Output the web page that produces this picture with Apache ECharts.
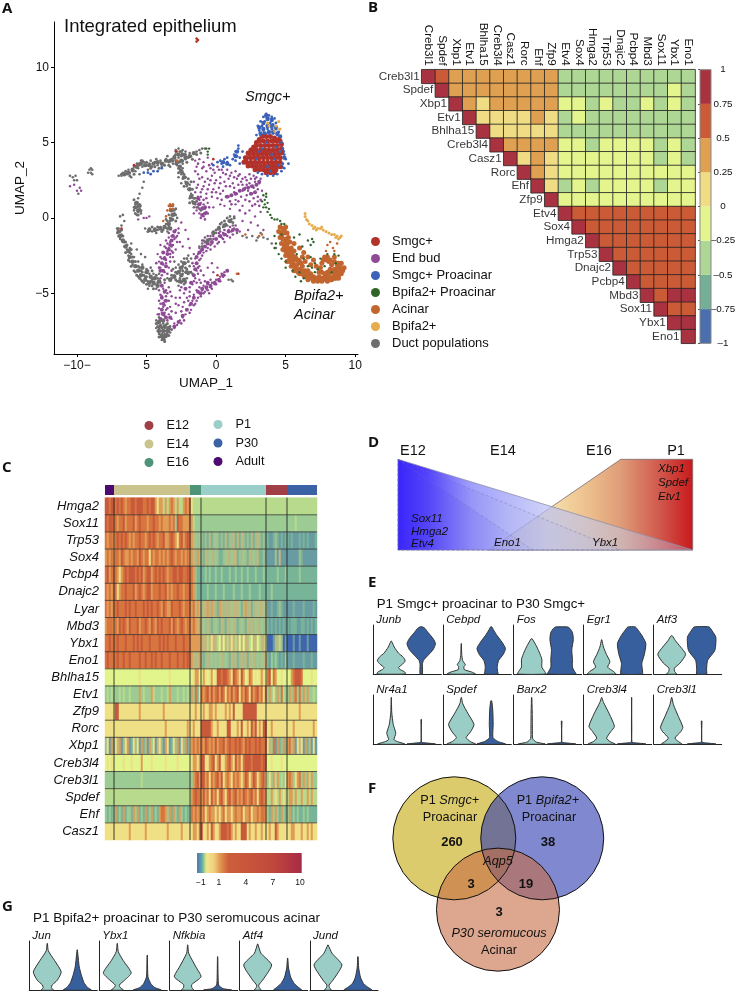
<!DOCTYPE html>
<html>
<head>
<meta charset="utf-8">
<script src="https://cdn.jsdelivr.net/npm/echarts@6/dist/echarts.min.js"></script>
<style>html,body{margin:0;background:#fff}</style>
</head>
<body>
<div id="main" style="width:736px;height:994px"></div>
<script>
// ---- panel A: UMAP points
const ductPts = [[-10.5,2.8],[-10.3,2.7],[-10.1,2.8],[-10.2,2.5],[-10,2.5],[-9.9,1.6],[-9.1,3.2],[-9,3],[-8.9,3.2],[-9,3.3],[-9.2,3],[-8.9,2.9],
[-7,2.8],[-6.8,2.8],[-6.6,2.9],[-6.4,2.9],[-6.7,3],[-6.2,3],[-6,3.1],[-6.3,3.2],[-5.9,3.4],[-5.7,3.6],[-5.5,3.5],[-5.3,3.4],[-5.8,3.1],[-5.6,3.3],[-5.2,3.7],[-5,3.5],[-4.8,3.6],[-4.6,3.4],[-4.4,3.7],[-4.2,3.5],[-4,3.8],[-3.8,3.6],[-3.6,3.9],[-3.9,3.4],[-3.4,3.7],[-3.2,3.9],[-3,4.1],[-2.8,4.4],[-2.6,4.4],[-2.9,3.8],[-2.7,4],[-2.5,4.1],[-2.3,4.2],[-2.6,3.7],[-2.4,3.6],[-2.2,3.9],[-2,4],[-1.8,4.1],[-1.6,4.3],[-1.4,4.4],[-1.2,4.5],[-1,4.6],[-0.8,4.6],[-2.2,4.4],[-1.9,4.3],[-2.8,3.5],[-2.6,3.2],[-2.4,3.3],[-2.5,2.9],[-2.3,2.9],[-3.1,3.6],[-3.3,3.4],[-3.5,4.1],[-2.9,4.5],[-2.7,4.6],[-2.4,4.5],[-4.3,3.9],[-4.7,3.8],[-5.4,3.8],[-6.1,2.7],[-5.5,2.9],[-4.9,3.2],
[-2.4,2.6],[-2.2,2.4],[-2.5,2.3],[-2.1,2.1],[-1.9,2.2],[-2,1.9],[-1.8,1.6],[-1.9,1.3],[-1.7,1.1],[-1.5,0.9],[-1.3,0.7],[-1.6,0.7],[-1.1,0.5],[-1.7,1.5],[-2.7,2.7],
[-5.6,1.3],[-5.8,1],[-5.5,0.9],[-5.9,0.7],[-5.7,0.7],[-5.5,0.6],[-5.9,0.5],[-5.6,0.4],[-5.7,0.2],[-5.4,0.3],[-5.5,1.6],[-5.3,2],[-5.2,2.4],[-5.8,0.9],
[-5.1,-0.7],[-4.8,-0.7],[-4.6,-0.9],[-4.4,-0.7],[-4.2,-0.8],[-4,-0.6],[-3.8,-0.8],[-3.6,-0.4],[-3.4,-0.6],[-3.3,-0.2],[-3.6,-0.1],[-3.1,-0.1],[-3.2,0.2],[-2.9,0.2],[-3.4,0.2],[-3,0.5],[-3.3,0.5],[-3.1,0.8],[-2.8,0],[-3.5,-0.9],[-4.3,-1],
[-7.1,-1],[-7,-0.7],[-6.9,-0.9],[-6.8,-0.5],[-6.8,-1.1],[-6.9,-1.4],[-6.7,-1.6],[-6.6,-0.2],[-6.9,0.1],[-6.7,0.2],[-6.6,-1.9],[-6.4,-2.1],[-6.2,-2],[-6.3,-2.5],[-6.1,-2.4],[-6.2,-2.9],[-5.9,-2.6],[-6,-3.1],[-5.8,-3.2],[-5.6,-2.9],[-5.8,-3.6],[-5.5,-3.3],[-5.3,-3.1],[-5.6,-3.9],[-5.3,-3.6],[-5,-3.4],[-5.4,-4.1],[-5.1,-3.9],[-4.8,-3.7],[-5.2,-4.3],[-4.9,-4.2],[-4.6,-4.1],[-4.8,-4.5],[-4.4,-4.4],[-4.2,-4],[-4.5,-3.7],[-4.7,-3.3],[-4.3,-4.7],[-4,-4.3],[-5.1,-2.6],[-5.4,-2.4],[-4.9,-4.7],[-4.1,-3.7],[-6.1,-1.7],[-5.7,-2.1],
[-3.5,-4],[-3.2,-4],[-3,-3.8],[-2.8,-3.7],[-2.6,-3.5],[-2.4,-3.2],[-2.2,-3],[-2.7,-3.1],[-2.5,-2.9],[-2.9,-3.3],[-2.3,-2.7],[-2.1,-3.4],[-2.4,-3.7],[-2.6,-4],[-2.8,-4.2],[-2.5,-4.3],[-2.3,-4.4],[-2.1,-4],[-2.7,-4.5],[-2.2,-3.6],[-1.9,-3.2],[-1.8,-2.7],[-2,-2.5],[-1.7,-3.7],[-3,-2.9],[-3.1,-3.4],
[-4,-7.1],[-3.8,-7],[-3.6,-7.1],[-4.1,-7.3],[-3.9,-7.3],[-3.7,-7.3],[-3.5,-7.3],[-3.3,-7.2],[-4.2,-7.5],[-4,-7.5],[-3.8,-7.5],[-3.6,-7.5],[-3.4,-7.5],[-4.1,-7.7],[-3.9,-7.7],[-3.7,-7.7],[-3.5,-7.7],[-3.3,-7.6],[-4,-7.9],[-3.8,-7.9],[-3.6,-7.9],[-3.9,-8.1],[-3.7,-8.1],[-4.2,-7],[-4.3,-7.3],[-4.3,-6.8],[-3.9,-6.8],[-4.1,-6.6],
[-1.2,-1.9],[-1,-1.7],[-0.6,-1.6],[-0.8,-1.3],[-0.4,-1.2],[-0.2,-0.9],[0,-1],[0.2,-0.6],[0.5,-0.6],[0.7,-0.4],[0.9,-0.2],[1.1,-0.1],[0.8,-0.5],[1.2,-0.5],[0.4,-0.3],[1,0.1],
[1.5,-1],[1.9,-1.2],[2.2,-1.3],[2.6,-1.2],[3,-1.3],[3.4,-1.3],[3.7,-1.4],[4,-1.7],[4.3,-2],[3.2,-1],[2.9,-1.5],[1.1,-4.1],[1.2,-4.2],[0.9,-4.1]];
const ductFill = [[-6.8,2.9],[-6.5,3.1],[-6.2,2.8],[-5.9,2.9],[-5.6,3.6],[-5.3,3.8],[-5,3.7],[-4.7,3.3],[-4.4,3.4],[-4.1,3.3],[-3.7,3.5],[-3.4,3.5],[-3.1,3.8],[-2.9,4.2],[-2.5,4.4],[-2.2,4.2],[-2.9,3.6],[-2.7,3.3],[-2.4,3.8],[-2.1,3.7],[-1.7,3.9],[-1.4,4.2],[-1.1,4.3],[-2.7,3],[-2.4,3],[-2.2,2.7],[-2,2.6],[-1.8,2.4],[-2.3,2.1],[-1.7,1.9],[-1.6,1.3],[-1.9,1],[-1.4,1.1],
[-5.9,1.2],[-5.6,0.8],[-5.4,0.5],[-5.8,0.3],[-5.6,0.2],
[-4.9,-0.9],[-4.6,-0.6],[-4.2,-0.6],[-3.9,-0.9],[-3.5,-0.7],[-3.5,-0.2],[-3.3,0],[-2.9,-0.2],[-3,0.3],[-2.9,0.6],
[-7.1,-0.7],[-6.8,-0.8],[-7,-1.2],[-6.7,-1.2],[-6.6,-1.6],[-6.5,-1.6],[-6.4,-1.8],[-6.5,-2.3],[-6.1,-2.1],[-6.2,-2.3],[-6.3,-2.8],[-6,-2.6],[-5.8,-2.9],[-6.1,-3.2],[-5.6,-3.2],[-5.9,-3.5],[-5.4,-3.5],[-5.7,-3.8],[-5.2,-3.8],[-5.5,-4],[-5,-3.9],[-5.3,-4.2],[-4.7,-4.2],[-5,-4.4],[-4.6,-4.5],[-4.2,-4.3],[-4.5,-4],[-4.9,-3.5],[-4.6,-3.5],[-4.3,-3.8],[-4.5,-4.7],
[-3.7,-4.1],[-3.2,-3.8],[-2.9,-4.1],[-2.6,-3.3],[-2.4,-3.5],[-2.2,-3.3],[-2,-2.9],[-2.1,-2.7],[-2.4,-4.2],[-2.2,-4.2],[-2,-3.7],[-1.9,-3.6],[-2.9,-3.6],
[-4.2,-7.2],[-4.3,-7],[-3.5,-7],[-3.2,-7.4],[-4.1,-7.9],[-3.4,-7.8],[-3.7,-8.2],
[-1,-1.9],[-0.8,-1.6],[-0.4,-1.4],[0,-0.8],[0.3,-0.4],[0.6,-0.2],[0.8,0],[1.2,-0.3],[1.3,0]];
const ductCore = [[-6.6,2.9],[-6.3,3],[-6,3.2],[-5.7,3.4],[-5.4,3.6],[-5.1,3.5],[-4.8,3.5],[-4.5,3.6],[-4.2,3.7],[-3.9,3.6],[-3.6,3.8],[-3.3,3.8],[-3,4],[-2.7,4.2],[-2.4,4.2],[-2.8,3.7],[-2.5,3.8],[-2.2,4],[-1.9,4.1],[-1.6,4.3],[-2.6,3.4],[-2.5,3.1],[-2.3,2.7],[-2.1,2.3],[-1.9,1.9],[-1.8,1.4],[-1.6,1],
[-5.7,1],[-5.8,0.7],[-5.6,0.5],[-5.5,0.8],
[-4.8,-0.8],[-4.4,-0.8],[-4,-0.7],[-3.7,-0.6],[-3.4,-0.4],[-3.2,-0.1],[-3.1,0.2],[-3.2,0.5],[-3.3,-0.7],
[-7,-0.9],[-6.9,-1.2],[-6.7,-1.5],[-6.5,-1.9],[-6.3,-2.2],[-6.2,-2.6],[-6,-2.9],[-5.8,-3.2],[-5.6,-3.5],[-5.4,-3.8],[-5.1,-4.1],[-4.8,-4.3],[-4.5,-4.3],[-4.2,-4.5],[-5.3,-3.3],[-5,-3.6],[-4.7,-3.9],[-4.4,-4],[-4.1,-4.2],
[-3.3,-4.1],[-3,-3.9],[-2.7,-3.6],[-2.5,-3.3],[-2.3,-3],[-2.5,-3.8],[-2.6,-4.2],[-2.3,-4.1],[-2.1,-3.6],
[-4,-7.2],[-3.7,-7.2],[-3.4,-7.3],[-4.1,-7.5],[-3.8,-7.5],[-3.5,-7.5],[-3.9,-7.8],[-3.6,-7.8],[-3.8,-8],[-4.1,-6.9],[-3.8,-6.8],
[-0.6,-1.5],[-0.2,-1],[0.2,-0.7],[0.6,-0.5],[1,-0.2]];
const endBudPts = [[-10.5,2.1],[-10.2,2.2],[-10,1.8],[-9.8,2],[-9.7,1.8],[-5.6,-0.1],[-5.2,0],[-5,0],[-4.8,0.1],
[-1.5,3.8],[-1.2,3.9],[-0.9,3.7],[-0.6,4],[-0.3,3.6],[-1.4,3.4],[-1,3.3],[-0.7,3.1],[-0.4,3.3],[-0.1,3],[0.2,3.2],[0.5,3],[0.8,3.2],[1.1,3],[1.4,3.1],[1.7,2.9],[-1.3,2.9],[-1,2.7],[-0.6,2.6],[-0.3,2.8],[0,2.5],[0.3,2.7],[0.6,2.4],[0.9,2.6],[1.2,2.3],[1.5,2.6],[1.8,2.4],[2.1,2.7],[2.4,2.9],[2.7,2.8],[-1.6,2.4],[-1.3,2.2],[-0.9,2.1],[-0.5,2.2],[-0.2,1.9],[0.2,2],[0.5,1.8],[-1.1,1.7],[-0.7,1.6],[-0.3,1.4],[0.1,1.3],[-1.2,1.2],[-0.6,1],[-0.2,0.7],[0.3,0.9],[0.6,0.8],[1,0.6],[1.4,0.9],[1.9,0.8],[2.4,0.5],[2.8,0.1],[3.2,0.4],[1.3,0.1],[1.9,-0.2],[2.5,-0.3],[3,-0.5],[2.3,-0.8],[3.4,-0.8],
[0.7,1.4],[0.9,1.4],[1.1,1.5],[1.3,1.7],[1.5,1.6],[1.7,1.8],[1.9,1.8],[2.1,2],[2.3,1.8],[2.5,2.1],[2.7,2],[2.9,2.2],[3.1,2.3],[2.8,2.4],[3,1.9],[2.6,1.6],[3.2,2.6],[2.9,2.7],[3.3,1.8],[2.4,2.3],[2.2,1.5],[1.8,1.4],[1.4,1.2],[2.7,1.3],[3,1.1],
[-1.5,1.7],[-1.3,1.4],[-1.1,1],[-0.9,0.9],[-1.4,0.5],[-1.2,0.3],[-1,0.2],[-0.8,0.6],[-1,0.7],[-0.7,0.4],[-1.3,0.9],[-0.9,0.1],[-1.6,0.3],
[-1.3,-2.4],[-1.1,-2.2],[-0.9,-2.3],[-1.2,-2],[-0.8,-1.9],[-0.6,-2],[-1,-1.5],[-0.4,-1.8],[-0.2,-1.4],[-0.3,-1.7],[0,-1.4],[0.2,-1.2],[0.4,-1.3],[0.1,-1.7],[0.5,-1],[0.7,-1.1],[0.9,-0.8],[1.1,-0.9],[1.3,-0.7],[1.5,-0.8],[1.7,-0.9],[0.6,-1.6],[0.3,-0.9],[-0.5,-1.4],[-0.7,-1.6],[1,-1.3],[-1.5,-2.7],[-1.4,-3],[-1.2,-3.2],[-1.4,-3.5],[-1.1,-2.7],[-1.6,-2.4],[-1.6,-3.2],[-1.3,-3.7],[-1.5,-4],[-1.7,-4.4],[-1.2,-4.1],
[-4,-3.3],[-3.8,-3.1],[-3.6,-3],[-4.1,-2.9],[-3.9,-2.7],[-3.7,-2.6],[-3.5,-2.4],[-3.8,-2.3],[-3.3,-2.6],[-3.6,-2],[-3.4,-2],[-3.2,-2.2],[-3.5,-1.7],[-3.3,-1.6],[-3.1,-1.8],[-3.4,-1.3],[-3.2,-1.2],[-3,-1.4],[-3,-0.9],[-2.8,-1.2],[-2.7,-0.7],[-2.6,-1.6],[-2.9,-2.1],[-2.5,-0.3],[-3.7,-3.6],[-3.4,-3.3],[-3.1,-2.6],[-4.2,-2.4],[-4,-1.8],[-2.4,-1.9],[-2.2,-0.8],[-2,-1.4],[-1.9,-2],
[-4,-4],[-3.7,-4.3],[-3.4,-4.6],[-3.8,-4.7],[-3.5,-5],[-3.2,-5.2],[-3.9,-5.2],[-4.1,-4.8],[-3.7,-5.5],[-4,-5.7],[-3.8,-5.9],[-3.6,-6.1],[-4.1,-6],[-3.9,-6.3],[-3.7,-6.5],[-4.2,-6.4],[-3.4,-6.4],[-3.2,-6.7],[-3,-7],[-3.3,-5.9],[-2.9,-5.3],[-2.6,-4.8],[-2.3,-5],[-2.7,-5.8],[-2.4,-5.9],
[0.8,-3.5],[0.6,-3.6],[0.5,-3.9],[0.3,-3.9],[0.2,-4.2],[0,-4.1],[-0.1,-4.4],[-0.3,-4.3],[-0.4,-4.6],[-0.6,-4.4],[-0.7,-4.7],[-0.9,-4.5],[-1,-4.8],[-1.2,-4.6],[-0.8,-4.9],[-0.5,-5],[-1.2,-5],[-1.4,-4.8],[-1.6,-5.1],[-1.3,-5.3],[-1.7,-5.5],[-1.5,-5.7],[-1.9,-5.8],[-1.8,-6.1],[-2.1,-6.1],[-2.2,-6.4],[-2.4,-6.6],[-2.6,-6.8],[-2.8,-7.1],[-3,-7.3],[-2.1,-5.3],[-1.9,-4.9],[-0.2,-3.6],[-0.6,-3.3],[-0.9,-3.8],[0.1,-3.3],[-0.3,-3]];
const endBudFill = [[-1.3,3.6],[-0.9,3.4],[-0.5,3.5],[-0.2,3.2],[0.1,3.4],[0.4,3.2],[0.7,2.9],[1,2.8],[1.3,2.7],[1.6,2.8],[1.9,2.6],[2.2,2.5],[2.5,2.6],[2.8,2.6],[-1.5,3.1],[-1.2,2.6],[-0.8,2.4],[-0.4,2.5],[-0.1,2.3],[0.3,2.3],[0.7,2.1],[1,2.1],[1.3,2],[1.6,2.2],[1.9,2.2],[2.2,2.2],[-1.4,2],[-1,1.9],[-0.6,1.9],[-0.3,1.7],[0,1.7],[0.3,1.6],[0.4,1.2],[1,1.1],[1.6,1.1],[2.1,1.2],[2.4,1.1],[2.8,0.9],[3.1,0.8],[1.1,0.9],[1.7,0.5],[2.1,0.3],[2.6,0.8],[3,1.4],[3.2,1.2],[-1.5,1.3],[-1.5,1],[-1.4,0.7],[-1.1,1.4],[-0.9,1.2],[-0.7,1.3],[-0.5,0.7],[-0.6,0.3],[-1.2,0.6],[-1.1,0],[-0.8,-0.1],
[-1,-2.5],[-0.7,-2.2],[-0.4,-2.1],[-0.1,-1.9],[0.2,-1.6],[0.5,-1.4],[0.8,-1.2],[1.2,-1.1],[-0.9,-1.5],[-0.6,-1.2],[-0.2,-1.2],[0.2,-1],[0.6,-0.8],[1,-0.6],[1.4,-0.5],[-1.2,-2.8],[-1.3,-3.3],[-1.1,-3.5],[-1.7,-3],[-1.8,-3.6],[-1.6,-4.2],[-1.9,-4.6],[-2.2,-4.3],[-2.5,-4.6],[-1.4,-4.3],
[-4,-2.6],[-3.6,-2.8],[-3.3,-2.9],[-3.5,-2.2],[-3.1,-2.3],[-3.7,-1.9],[-3.2,-1.9],[-3.6,-1.5],[-3.4,-1],[-2.8,-1.6],[-2.9,-0.8],[-3.9,-3.8],[-3.5,-3.7],[-3.2,-3.5],[-4.1,-3.3],[-4.3,-3],[-3.3,-2.4],[-2.9,-1.3],[-2.7,-1],
[-3.6,-4.8],[-3.3,-4.9],[-3.6,-5.2],[-4,-5.1],[-3.4,-5.5],[-3.7,-5.8],[-4.1,-5.5],[-3.5,-6],[-3.7,-6.3],[-3.2,-6.2],[-3.5,-6.8],[-4.1,-6.4],[-2.9,-5.7],[-2.6,-5.3],[-2.9,-6.3],[-2.5,-6.2],[-2.3,-5.6],[-2,-5.5],[-1.9,-5.2],
[0.6,-3.8],[0.3,-4.2],[0,-4.4],[-0.3,-4.7],[-0.6,-4.8],[-0.9,-5],[-1.1,-5.2],[-1.4,-5.5],[-1.6,-5.8],[-1.9,-6.3],[-2.3,-6.8],[-2.5,-7],[-0.4,-4.1],[-0.8,-4.2],[-1.1,-4.3],[0.4,-3.7]];
const endBudCore = [[0.8,1.4],[1.1,1.5],[1.4,1.6],[1.7,1.8],[2,1.9],[2.3,2],[2.6,2.1],[2.9,2.2],[3.1,2.4],[2.8,1.7],[2.5,1.6],
[-1.3,1.3],[-1.2,0.9],[-1,0.6],[-0.8,0.3],[-1,0.2],[-0.8,0.7],
[-1.4,-2.6],[-1.2,-2.3],[-1,-2.1],[-0.8,-1.9],[-0.6,-1.7],[-0.3,-1.6],[0,-1.4],[0.3,-1.2],[0.6,-1.1],[0.9,-0.9],[1.2,-0.8],[1.5,-0.8],[-1.4,-3],[-1.5,-3.4],[-1.6,-3.8],[-1.8,-4.3],[-2.2,-4.7],
[-3.9,-3],[-3.7,-2.7],[-3.5,-2.4],[-3.4,-2.1],[-3.3,-1.8],[-3.2,-1.5],[-3.1,-1.2],[-3,-0.9],[-3.8,-2.3],[-3.6,-3.2],[-4,-3.5],[-3.8,-3.5],
[-3.9,-4.5],[-3.7,-4.9],[-3.9,-5.3],[-3.8,-5.7],[-3.9,-6.1],[-3.8,-6.4],[-4,-6.7],[-3.6,-5.5],[-3.6,-6.6],[-3.3,-6.6],
[0.8,-3.5],[0.5,-3.8],[0.2,-4.1],[-0.1,-4.3],[-0.4,-4.5],[-0.7,-4.6],[-1,-4.7],[-1.3,-4.9],[-1.6,-5.3],[-1.8,-5.7],[-2.1,-6.1],[-2.4,-6.5],[-2.7,-6.9],[-3,-7.2],[-0.6,-4.3],[-1.1,-5]];
const smgcPts = [[2.1,4],[2.3,4.3],[2.5,4.5],[2.7,4.7],[2.9,5],[3.1,5.2],[3.3,5.4],[3.6,5.4],[3.9,5.4],[4.2,5.3],[4.5,5.2],
[2,3.7],[2.2,3.7],[2.5,3.7],[2.8,3.7],[3.1,3.7],[3.4,3.7],[3.7,3.7],[4,3.7],[4.3,3.7],[4.6,3.7],
[2.2,4],[2.5,4],[2.8,4],[3.1,4],[3.4,4],[3.7,4],[4,4],[4.3,4],[4.6,4],
[2.4,4.25],[2.7,4.25],[3,4.25],[3.3,4.25],[3.6,4.25],[3.9,4.25],[4.2,4.25],[4.5,4.25],[4.7,4.3],
[2.6,4.5],[2.9,4.5],[3.2,4.5],[3.5,4.5],[3.8,4.5],[4.1,4.5],[4.4,4.5],[4.7,4.6],
[2.9,4.8],[3.2,4.8],[3.5,4.8],[3.8,4.8],[4.1,4.8],[4.4,4.8],[4.7,4.9],
[3.1,5.1],[3.4,5.1],[3.7,5.1],[4,5.1],[4.3,5.1],[4.6,5.1],
[2.3,3.45],[2.6,3.45],[2.9,3.45],[3.2,3.45],[3.5,3.45],[3.8,3.45],[4.1,3.45],[4.4,3.45],[4.6,3.4],
[2.8,3.2],[3.1,3.2],[3.4,3.2],[3.7,3.2],[4,3.2],[4.3,3.2],[3.6,3],[3.9,3],[4.2,3]];
const smgcStray = [[-1.4,11.9],[-1.3,11.8],[-1.4,11.7],[-0.2,3.9],[-3.3,0.8],[-6.8,-0.7],[-2.9,4.4],[0.1,-3.8],[-5.9,3.5],[1.6,-3.7]];
const smgcProPts = [[3,6.1],[3.2,6.4],[3.4,6.7],[3.6,6.9],[3.8,6.8],[4,6.7],[4.2,6.6],[3.3,6.1],[3.5,6.4],[3.7,6.5],[3.9,6.3],[4.1,6.2],[4.3,6.3],[3.1,5.8],[3.4,5.8],[3.7,5.9],[4,5.9],[4.3,5.9],[4.5,5.7],[2.9,5.5],[3.2,5.5],[3.5,5.6],[3.8,5.6],[4.1,5.6],[4.4,5.5],[4.6,5.4],[4.7,5],[4.8,4.6],[4.9,4.2],[5,3.9],[4.8,3.6],[4.9,3.3],[5.2,3.6],[4.7,3.1],[4.4,2.9],[4.1,2.8],[3.7,2.8],[3.3,2.9],[3,3],
[1.4,4.4],[1.6,4.6],[1.3,4.2],[1.5,4.1],[1.7,4],[1.6,4.8],[1.2,3.9],[1.4,3.8],[1.7,3.6],[1.9,4.4],[0.8,3.7],[1,3.5],[0.6,3.9],[0.4,3.6],[0.3,3.8],[0.1,3.7],[-0.2,3.5],[0.5,3.4],[0.8,4],
[3.3,4.6],[4,4.2],[3.7,3.4],[2.9,3.9],[4.3,4.7],[3.6,5],[4.5,3.5],[3.1,4.4],[4.2,3.9],[4.6,4.4],[3.9,3.1],
[-5.2,3],[-4.9,3],[-4.7,2.9],[-4.5,3.1],[-4.2,3.1],[-3.9,3.3]];
const smgcProCore = [[3.1,6],[3.4,6.3],[3.7,6.6],[4,6.5],[3.4,5.9],[3.7,6.1],[4,6.1],[4.3,6],[3.2,5.6],[3.5,5.6],[3.8,5.7],[4.1,5.7],[4.4,5.6],[3.6,6.8],[4.6,5.4],[1.5,4.4],[1.4,4.1],[0.5,3.7],[0.8,3.6],[4.8,4.4],[4.9,4],[4.7,3.4]];
const bpifaProPts = [[-0.6,4.4],[-0.7,4.6],[-0.5,4.6],[-0.6,4.2],[3.4,1.5],[3.5,1.2],[3.6,1.4],[3.3,1.1],[3.5,0.9],[3.7,1],[3.6,0.7],[3.8,0.6],[3.4,0.7],[3.7,0.4],[3.9,0.2],[4,0],[4.2,-0.1],[4.4,-0.1],[4.6,-0.2],[4.7,-0.4],[4.9,-0.4],[3.6,1.6],
[4.2,-1.2],[4.3,-1.7],[4.2,-2],[4.5,-2.4],[4.7,-2.7],[5,-2.9],[4.7,-1.1],[5.6,-1.3],[6,-1.1],[6.6,-1.5],[6.9,-1.4],[6.8,-1.8],[7,-1.6],[6.2,-1.9],[5.8,-2.4],[6.3,-2.7],[6.8,-2.6],[7.1,-3],[6.6,-3.2],[7.3,-3.4],[7.1,-3.6],[6.9,-3.3],[7.5,-2.7],[8,-2.4],[8.5,-2.4],[8.8,-2.5],[8.6,-3],[7.8,-3.2],[8.3,-3.6],[6,-3.6],[5.7,-3.9],[6.3,-4],[6.1,-4.2],[5.5,-3.5],[5,-3.3]];
const acinarPts = [[4.6,-0.6],[4.8,-0.7],[5,-0.6],[4.5,-0.9],[4.7,-1],[4.9,-1],[5.1,-1],[4.6,-1.3],[4.8,-1.4],[5,-1.4],[5.2,-1.3],[4.7,-1.7],[4.9,-1.8],[5.1,-1.7],[5.3,-1.6],[4.8,-2.1],[5,-2.2],[5.2,-2.1],[5.4,-2],[5,-2.5],[5.2,-2.5],[5.4,-2.4],[5.6,-2.2],[5.1,-2.9],[5.3,-2.9],[5.5,-2.8],[5.7,-2.6],[5.9,-2.8],[5.4,-3.2],[5.6,-3.1],[5.8,-3.1],[6,-2.9],[5.6,-3.5],[5.8,-3.5],[6,-3.4],[6.2,-3.2],[6.4,-2.9],[6,-3.7],[6.2,-3.7],[6.4,-3.5],[6.6,-3.5],[6.4,-3.9],[6.6,-3.8],[6.8,-3.7],[6.6,-4.1],[6.8,-4],[7,-3.9],[7,-4.2],[7.2,-4],[7.4,-3.9],[7.3,-4.2],[7.5,-4.1],[7.7,-4],[7.6,-4.2],[7.8,-4],[8,-3.9],[8,-4.2],[8.2,-4],[8.4,-3.9],[8.3,-4.1],[8.6,-4],[8.8,-3.8],[8.8,-4],[9,-3.7],[9.1,-3.5],[8.9,-3.4],[9.2,-3.3],[8.7,-3.6],[8.5,-3.4],[8.9,-3.1],[9,-3],[8.7,-3.1],[8.5,-2.9],[8.3,-3.1],[8.1,-2.9],[7.9,-2.8],[8.2,-3.4],[8,-2.6],[7.8,-2.6],[8.5,-2.6],[7.6,-3],[7.4,-3.6],[7.6,-3.6],[8,-3.6],[6.3,-2.3],[6.6,-2.6],[6,-2],[5.6,-1.7],[6.2,-2.6],[7,-2.8],[7.2,-3.2],[6.8,-3.1],
[4.9,-0.8],[4.7,-1.2],[5,-1.6],[4.9,-2],[5.1,-2.3],[5.3,-2.7],[5.5,-3],[5.7,-3.3],[5.9,-3.6],[6.2,-3.5],[6.3,-3.8],[6.5,-3.7],[6.7,-3.9],[7,-4],[7.3,-4],[7.6,-4],[7.9,-4.1],[8.2,-4.1],[8.5,-4],[8.8,-3.7],[9,-3.4],[8.7,-3.4],[8.4,-3.6],[8.6,-3.7],[8.1,-3.7],[8.8,-3],[8.2,-2.8],[7.7,-2.8],[7.5,-3.3],[7.8,-3.7],[6.1,-3],[5.8,-2.8],[5.5,-2.5],[5.3,-2.2],[5.1,-1.9]];
const acinarStray = [[8.2,-1.6],[8.4,-2],[8,-1.8],[8.7,-1.7],[8.5,-2.2],[7.9,-2.2],[3.1,-1.2],[3.3,-1.1],[2.1,-1.1],[1.5,-3.7],
[-3.4,0.8],[-3.3,0.6],[-3.2,0.8],[-3.1,0.6],[-3.5,0.5],[-3.6,0.1],[-3.8,-0.2],[-3.3,0.9],[-3.1,0.9],[-2.8,3.8]];
const bpifaPts = [[6.4,0.3],[6.4,0.1],[6.5,-0.1],[6.6,-0.2],[6.7,-0.4],[6.9,-0.5],[7.1,-0.6],[7.3,-0.7],[7.5,-0.7],[7.7,-0.8],[7.9,-0.9],[8.1,-1],[8.3,-1.1],[8.5,-1.1],[8.7,-1.2],[8.9,-1.3],[9,-1.2],[8.8,-1.4],[8.6,-1.3],[7.2,-0.8],[7,-0.7],[7.6,-0.6],
[4.5,6.4],[4.3,6.1],[4.1,5.9],[4.4,5.9],[3.8,6.1],[3.7,6.3],[4.2,5.7],[4.6,5.9]];
// legend names
const umapNames = ["Smgc+","End bud","Smgc+ Proacinar","Bpifa2+ Proacinar","Acinar","Bpifa2+","Duct populations"];

// ---- panel B: correlation, upper triangle, each row starts on the diagonal
const corrGenes = ["Creb3l1","Spdef","Xbp1","Etv1","Bhlha15","Creb3l4","Casz1","Rorc","Ehf","Zfp9","Etv4","Sox4","Hmga2","Trp53","Dnajc2","Pcbp4","Mbd3","Sox11","Ybx1","Eno1"];
const corrRows = [
[.9,.6,.4,.4,.4,.4,.4,.4,.4,.4,-.4,-.4,-.4,-.4,-.4,-.4,-.4,-.4,-.4,-.4],
[.9,.4,.4,.4,.4,.4,.4,.4,.4,-.4,-.4,-.4,-.4,-.4,-.4,-.4,-.4,-.1,-.4],
[.9,.4,.1,.4,.4,.4,.4,.4,-.1,-.1,-.4,-.1,-.4,-.4,-.1,-.4,-.1,-.4],
[.9,.1,.1,.1,.1,.4,.1,-.4,-.1,-.4,-.4,-.4,-.4,-.4,-.4,-.4,-.4],
[.9,.1,.1,.1,.1,.1,-.4,-.4,-.4,-.4,-.4,-.4,-.4,-.4,-.4,-.4],
[.9,.4,.4,.4,.4,-.1,-.1,-.4,-.1,-.1,-.1,-.1,-.4,-.1,-.4],
[.9,.1,.4,.1,-.1,-.1,-.1,-.1,-.1,-.1,-.1,-.4,-.1,-.4],
[.9,.4,.1,-.1,-.1,-.1,-.1,-.1,-.1,-.1,-.1,-.1,-.1],
[.9,.1,-.4,-.1,-.4,-.1,-.1,-.1,-.1,-.4,-.1,-.1],
[.9,-.1,-.1,-.1,-.1,-.1,-.1,-.1,-.1,-.1,-.1],
[.9,.6,.6,.6,.6,.6,.6,.6,.6,.6],
[.9,.6,.6,.6,.6,.6,.6,.6,.6],
[.9,.6,.6,.6,.6,.6,.6,.6],
[.9,.6,.6,.6,.6,.6,.6],
[.9,.6,.6,.6,.6,.6],
[.9,.6,.6,.6,.6],
[.9,.6,.9,.9],
[.9,.6,.6],
[.9,.9],
[.9]];
const corrBreaks = [-1,-.75,-.5,-.25,0,.25,.5,.75,1];
const corrColors = ["#4a6fae","#74b095","#aed694","#e4f58e","#f0dc84","#e0a052","#cb5a37","#a8323f"];
const corrTicks = [-1,-.75,-.5,-.25,0,.25,.5,.75,1];

// ---- panel C: expression levels per cell group, columns split by stage
const stageNames = ["Adult","E14","E16","P1","E12","P30"];
const stageCells = [9,76,11,65,21,30];
const stageColors = ["#4c0a72","#cbc38c","#4e9478","#9acec8","#a04046","#3a62a4"];
const heatGenes = ["Hmga2","Sox11","Trp53","Sox4","Pcbp4","Dnajc2","Lyar","Mbd3","Ybx1","Eno1","Bhlha15","Etv1","Zfp9","Rorc","Xbp1","Creb3l4","Creb3l1","Spdef","Ehf","Casz1"];
// level codes are base 36 digits, a and b are the muted in-between tones
const heatColors = ["#3f66ad","#6a9ca3","#78b498","#9ccb94","#b8da8c","#e2f48c","#efdf85","#e09c55","#d8743f","#c85a3b","#a3bf8e","#c4b67c"];
const heatHmga2 = "99899 8989878899 8999889899 7677474787 47447878 64444 4444444444 4444444444 4444444444 444 4444444444 444444444444444";
const heatSox11 = "98998 8788978889 7898887889 8878777878 39887778 74333 3333333333 3333333333 3333333333 333 3333333333 333343333333333";
const heatTrp53 = "87887 8989898787 8898878989 8788977898 76897898 7b3a3 a2a2b2a3a2 a2b2aab2b2 ba2a2b2aba 2a2 2112a21212 212111212121112";
const heatSox4 = "78787 8879877878 8798788687 8878787898 78878787 7ba7a a2ba3ba3a2 2a3ba3bb2a a3a2ba3ab2 2a2 1111a1b111 111111a21111111";
const heatPcbp4 = "89788 8767898999 8989789978 9898987889 98998898 87a22 2232322322 3222322322 3223222322 232 2222232223 222222322222222";
const heatDnajc2 = "87878 8678898889 7898789978 8898897878 89887889 87a22 2223222322 2322223222 3222322223 222 2232222222 222222222222222";
const heatLyar = "87878 8988898988 9888989898 8987987798 88987888 78b7b abb7a7ba27 babab3bbb3 2b7ab2ab3b b3b 112112a211 111211112111121";
const heatMbd3 = "78887 8798987988 8978898798 7989888979 87898788 787b7 a3aba2a3a2 ba2ba3ba2a 3a2baba3ba 3aa 2121212121 212221122121212";
const heatYbx1 = "88988 8988898889 8989888988 8898989888 98889888 77777 bbb4b6bb45 b5b4b6b4b5 b5bb45bb54 bb5 0001ab4a01 000100100010000";
const heatEno1 = "89888 8988988988 8898898898 9889888988 89889898 7bab7 a2aba3a3a3 ba3a2bab2a bab2b3ba3a 3bb 2132321213 111211112111211";
const heatBhlha15 = "55555 5555555555 5565555555 5555555655 55555555 56775 5765675699 8998769876 9756875656 765 8958755655 557899985555655";
const heatEtv1 = "34343 3343433433 3373433374 3334334733 34334343 73826 8789797897 9868797896 8798697897 868 3736373843 373783837373343";
const heatZfp9 = "66666 9966666666 6676666666 6666766666 66666666 66766 6766776766 6676769666 6999999966 666 6666666666 666666766666666";
const heatRorc = "66666 6666666666 6666666666 6666676666 66666676 67666 9999976676 6669966676 9667697967 699 6676666666 666766666666676";
const heatXbp1 = "a6172 6b71a67126 a6172b1736 1b6a176126 a716a716 78787 8798787978 8978988989 8798988989 889 6b38172a72 78b716b6172b161";
const heatCreb3l4 = "56565 5555655565 5557555565 5555565555 56555555 67767 9966789679 6678976978 6899989999 899 5565555655 555555555555555";
const heatCreb3l1 = "33333 3333333333 3334333333 3333333333 33333333 37897 9978687897 9678768787 6798679867 896 3637473436 787367837374733";
const heatSpdef = "44444 4444444444 4444444444 4444444444 44444444 78988 7978697868 9768978978 7987897868 987 4474647464 477474474474744";
const heatEhf = "32323 7232723327 3723272372 3278873727 32732323 87878 7867877676 7867767877 8677867787 887 3273732732 372323223232222";
const heatCasz1 = "66666 6666666766 6666676666 6666667666 66676666 67768 9667697667 9998976766 9996766766 766 6766976666 667766676676766";
const heatRows = [heatHmga2,heatSox11,heatTrp53,heatSox4,heatPcbp4,heatDnajc2,heatLyar,heatMbd3,heatYbx1,heatEno1,heatBhlha15,heatEtv1,heatZfp9,heatRorc,heatXbp1,heatCreb3l4,heatCreb3l1,heatSpdef,heatEhf,heatCasz1];
const heatScaleTicks = [-1,1,4,7,10];

// ---- panel D
const dStages = ["E12","E14","E16","P1"];
const dLateShape = [[.308,0],[.756,1],[1,1],[1,0]];
const dEarlyShape = [[0,1],[1,0],[0,0]];
const dMidShape = [[0,1],[.752,0],[0,0]];
const dFirstShape = [[0,1],[.457,0],[0,0]];

// ---- violins: [level, density] from the baseline up
const junbP1 = [[0,.95],[4,.9],[9,.6],[13,.48],[20,.75],[27,.93],[35,.78],[42,.5],[55,.2],[67,.02]];
const junbP30 = [[0,.08],[20,.08],[28,.15],[38,.45],[50,.8],[62,.95],[72,.8],[85,.45],[93,.25],[96,.1]];
const cebpdP1 = [[0,.95],[4,.7],[9,.2],[15,.18],[19,.27],[27,.1],[40,.03],[62,.01]];
const cebpdP30 = [[0,.45],[6,.42],[16,.4],[28,.5],[40,.8],[52,.95],[65,.72],[78,.4],[90,.15],[96,.05]];
const fosP1 = [[0,.95],[6,.85],[14,.68],[30,.68],[45,.5],[58,.3],[72,.03]];
const fosP30 = [[0,.95],[6,.85],[14,.72],[30,.72],[50,.68],[70,.78],[85,.72],[93,.55],[96,.4]];
const egr1P1 = [[0,.95],[5,.8],[14,.4],[25,.55],[40,.32],[55,.12],[70,.01]];
const egr1P30 = [[0,.72],[8,.72],[22,.68],[40,.85],[62,.95],[78,.7],[90,.42],[96,.25]];
const atf3P1 = [[0,.33],[5,.2],[12,.18],[22,.55],[40,.93],[55,.6],[68,.25],[78,.04]];
const atf3P30 = [[0,.33],[10,.33],[28,.4],[48,.88],[75,.95],[88,.7],[96,.5]];
const nr4a1P1 = [[0,.9],[5,.4],[9,.18],[22,.3],[40,.13],[65,.03],[95,.01]];
const nr4a1P30 = [[0,.95],[2,.4],[4,.02],[50,.02]];
const spdefP1 = [[0,.95],[5,.6],[13,.33],[25,.62],[40,.85],[62,.45],[82,.1],[95,.01]];
const spdefP30 = [[0,.95],[5,.45],[13,.12],[40,.13],[70,.1],[88,.03]];
const barx2P1 = [[0,.9],[4,.3],[11,.07],[28,.05],[60,.04],[95,.01]];
const barx2P30 = [[0,.95],[2,.4],[4,.02],[47,.02]];
const creb3l4P1 = [[0,.9],[5,.55],[12,.33],[25,.6],[36,.85],[62,.5],[85,.12],[95,.01]];
const creb3l4P30 = [[0,.95],[2,.4],[4,.02],[95,.01]];
const creb3l1P1 = [[0,.68],[5,.45],[12,.22],[25,.6],[34,.75],[56,.45],[80,.12],[95,.01]];
const creb3l1P30 = [[0,.95],[2,.4],[4,.02],[47,.02]];
const junP1 = [[0,.4],[5,.27],[11,.35],[20,.67],[37,.93],[60,.49],[80,.07],[95,.01]];
const junP30 = [[0,.93],[5,.7],[15,.45],[30,.28],[48,.13],[82,.01]];
const ybx1gP1 = [[0,.4],[5,.2],[10,.13],[20,.49],[35,.93],[60,.4],[78,.07],[95,.01]];
const ybx1gP30 = [[0,.93],[5,.5],[13,.24],[27,.05],[71,.01]];
const nfkbiaP1 = [[0,.4],[5,.28],[11,.27],[27,.89],[47,.55],[75,.07],[92,.01]];
const nfkbiaP30 = [[0,.93],[3,.35],[10,.07],[30,.03],[68,.01]];
const atf4P1 = [[0,.22],[5,.1],[10,.07],[20,.33],[51,.93],[75,.22],[94,.01]];
const atf4P30 = [[0,.93],[6,.7],[13,.45],[25,.22],[45,.06],[65,.01]];
const jundP1 = [[0,.22],[5,.1],[10,.07],[20,.33],[51,.93],[75,.27],[92,.01]];
const jundP30 = [[0,.93],[6,.65],[13,.38],[25,.18],[45,.05],[68,.01]];
const smgcGenes = ["Junb","Cebpd","Fos","Egr1","Atf3","Nr4a1","Spdef","Barx2","Creb3l4","Creb3l1"];
const smgcP1 = [junbP1,cebpdP1,fosP1,egr1P1,atf3P1,nr4a1P1,spdefP1,barx2P1,creb3l4P1,creb3l1P1];
const smgcP30 = [junbP30,cebpdP30,fosP30,egr1P30,atf3P30,nr4a1P30,spdefP30,barx2P30,creb3l4P30,creb3l1P30];
const seroGenes = ["Jun","Ybx1","Nfkbia","Atf4","Jund"];
const seroP1 = [junP1,ybx1gP1,nfkbiaP1,atf4P1,jundP1];
const seroP30 = [junP30,ybx1gP30,nfkbiaP30,atf4P30,jundP30];

// ---- panel F: venn circles in radius units
const vennX = [0,1.43,.71];
const vennY = [0,0,-1.16];

const SANS = '"Liberation Sans"';
const umapColors = {"Smgc+":"#b2322b","End bud":"#8f4a96","Smgc+ Proacinar":"#3b62b8","Bpifa2+ Proacinar":"#2f6429","Acinar":"#c2652f","Bpifa2+":"#e5ab4c","Duct populations":"#6d6d6d"};

let grids = [], xAxes = [], yAxes = [], series = [], visualMaps = [], texts = [];
function addGrid(rect, x, y) {
  grids.push(rect);
  let i = grids.length - 1;
  xAxes.push(Object.assign({gridIndex: i, type: "value", show: false}, x));
  yAxes.push(Object.assign({gridIndex: i, type: "value", show: false}, y));
  return i;
}
function label(text, x, y, font, extra) {
  texts.push({type: "text", z: 100, style: Object.assign({text: text, x: x, y: y, font: font, fill: "#111", align: "left", verticalAlign: "middle"}, extra)});
}
function plain(size) { return size + "px " + SANS; }
function ital(size) { return "italic " + size + "px " + SANS; }

// A
const axisA = {show: true, axisLine: {show: true, onZero: false, lineStyle: {color: "#000", width: 1}}, axisTick: {show: true, length: 3, lineStyle: {color: "#000"}}, splitLine: {show: false}, nameTextStyle: {fontFamily: SANS, fontSize: 13.5, color: "#111"}, nameLocation: "middle"};
let gA = addGrid({left: 54, top: 22, width: 304, height: 332},
  Object.assign({}, axisA, {min: -11.65, max: 10.2, name: "UMAP_1", nameGap: 22,
    axisTick: {show: true, length: 3, lineStyle: {color: "#000"}, customValues: [-10,-5,0,5,10]},
    axisLabel: {customValues: [-10,-5,0,5,10], fontFamily: SANS, fontSize: 12, color: "#111", margin: 6,
      formatter: v => v === -10 ? "\u221210\u2212" : v === -5 ? "5" : String(v)}}),
  Object.assign({}, axisA, {min: -9.03, max: 13, name: "UMAP_2", nameGap: 27,
    axisTick: {show: true, length: 3, lineStyle: {color: "#000"}, customValues: [-5,0,5,10]},
    axisLabel: {customValues: [-5,0,5,10], fontFamily: SANS, fontSize: 12, color: "#111", margin: 5,
      formatter: v => v < 0 ? "\u2212" + (-v) : String(v)}}));
[["End bud",endBudPts,2.4],["End bud",endBudFill,2.6],["End bud",endBudCore,4],["Duct populations",ductPts,2.6],["Duct populations",ductFill,3],["Duct populations",ductCore,4.4],["Smgc+ Proacinar",smgcProCore,4.4],["Smgc+",smgcPts,5],["Smgc+",smgcStray,2.6],["Bpifa2+",bpifaPts,3],["Smgc+ Proacinar",smgcProPts,2.8],["Acinar",acinarPts,5],["Acinar",acinarStray,2.6],["Bpifa2+ Proacinar",bpifaProPts,2.4]].forEach(s => {
  series.push({name: s[0], type: "scatter", xAxisIndex: gA, yAxisIndex: gA, data: s[1], symbolSize: s[2], itemStyle: {color: umapColors[s[0]], opacity: 1}});
});
label("Integrated epithelium", 64, 27, plain(18.5));
label("Smgc+", 245, 97, ital(14.5));
label("Bpifa2+", 294, 296, ital(14.5));
label("Acinar", 294, 315, ital(14.5));

// B
let gB = addGrid({left: 421.7, top: 69.7, width: 273.4, height: 273.6},
  {type: "category", data: corrGenes, position: "top", show: true, axisLine: {show: false}, axisTick: {show: false}, splitLine: {show: false},
    axisLabel: {rotate: 90, interval: 0, fontFamily: SANS, fontSize: 11.7, color: "#111", margin: 4}},
  {type: "category", data: corrGenes, inverse: true, show: false});
let corrData = [];
corrRows.forEach((row, r) => row.forEach((v, k) => corrData.push([r + k, r, v])));
series.push({type: "heatmap", xAxisIndex: gB, yAxisIndex: gB, data: corrData, itemStyle: {borderColor: "#222", borderWidth: .8}});
visualMaps.push({type: "piecewise", show: false, seriesIndex: series.length - 1, dimension: 2,
  pieces: corrColors.map((c, i) => ({min: corrBreaks[i], max: corrBreaks[i + 1], color: c}))});
series.push({type: "scatter", xAxisIndex: gB, yAxisIndex: gB, symbolSize: 13.7, itemStyle: {color: "rgba(0,0,0,0)"},
  data: corrGenes.map((g, i) => ({name: g, value: [i, i]})),
  label: {show: true, position: "left", distance: 2, formatter: "{b}", fontFamily: SANS, fontSize: 11.7, color: "#000", textBorderWidth: 0}});
let gBar = addGrid({left: 700, top: 69.7, width: 11, height: 273.6},
  {min: 0, max: 1},
  {min: -1, max: 1, show: true, position: "right", axisLine: {show: false}, splitLine: {show: false},
    axisTick: {show: true, inside: true, length: 2, lineStyle: {color: "#555"}, customValues: corrTicks},
    axisLabel: {customValues: corrTicks, align: "center", fontFamily: SANS, fontSize: 9.8, color: "#111", margin: 12, formatter: v => (v < 0 ? "\u2013" : "") + Math.abs(v)}});
series.push({type: "custom", xAxisIndex: gBar, yAxisIndex: gBar, data: corrColors.map((c, i) => [0, corrBreaks[i], 1, corrBreaks[i + 1]]),
  encode: {x: [0, 2], y: [1, 3]},
  renderItem: (p, api) => {
    let a = api.coord([0, api.value(3)]), b = api.coord([1, api.value(1)]);
    return {type: "rect", shape: {x: a[0], y: a[1], width: b[0] - a[0], height: b[1] - a[1]}, style: {fill: corrColors[p.dataIndex]}};
  }});
// the thin gray frame round the scale
series.push({type: "custom", xAxisIndex: gBar, yAxisIndex: gBar, z: 3, data: [[0, -1, 1, 1]], encode: {x: [0, 2], y: [1, 3]},
  renderItem: (p, api) => {
    let a = api.coord([0, 1]), b = api.coord([1, -1]);
    return {type: "rect", shape: {x: a[0], y: a[1], width: b[0] - a[0], height: b[1] - a[1]}, style: {fill: "none", stroke: "#888", lineWidth: 1}};
  }});

// C
let gStage = addGrid({left: 105, top: 485, width: 212, height: 10}, {min: 0, max: 212}, {type: "category", data: ["stage"]});
stageNames.forEach((s, i) => series.push({name: s, type: "bar", stack: "stage", xAxisIndex: gStage, yAxisIndex: gStage, barWidth: "100%", data: [stageCells[i]], itemStyle: {color: stageColors[i]}}));
let gHeat = addGrid({left: 105, top: 497.7, width: 212, height: 342.3},
  {type: "category", data: heatRows[0].replace(/ /g, "").split("").map((d, i) => String(i))},
  {type: "category", data: heatGenes, inverse: true, show: true, axisLine: {show: false}, axisTick: {show: false}, splitLine: {show: false},
    axisLabel: {interval: 0, fontFamily: SANS, fontStyle: "italic", fontSize: 13, color: "#111", margin: 6}});
let heatData = [];
heatRows.forEach((row, r) => row.replace(/ /g, "").split("").forEach((d, c) => heatData.push([c, r, parseInt(d, 36)])));
series.push({type: "heatmap", xAxisIndex: gHeat, yAxisIndex: gHeat, data: heatData});
visualMaps.push({type: "piecewise", show: false, seriesIndex: series.length - 1, dimension: 2,
  pieces: heatColors.map((c, i) => ({value: i, color: c}))});
let gHeatLines = addGrid({left: 105, top: 497.7, width: 212, height: 342.3}, {min: 0, max: 212}, {min: 0, max: heatGenes.length});
let stageEnds = [], runCells = 0;
stageCells.slice(0, -1).forEach(n => { runCells += n; stageEnds.push(runCells); });
series.push({type: "custom", xAxisIndex: gHeatLines, yAxisIndex: gHeatLines, z: 4, data: heatGenes.map((g, i) => [0, i]).slice(1),
  renderItem: (p, api) => {
    let a = api.coord([0, api.value(1)]), b = api.coord([212, api.value(1)]);
    return {type: "line", shape: {x1: a[0], y1: a[1], x2: b[0], y2: b[1]}, style: {stroke: "rgba(50,50,50,.75)", lineWidth: 1}};
  }});
series.push({type: "custom", xAxisIndex: gHeatLines, yAxisIndex: gHeatLines, z: 5, data: stageEnds.map(v => [v, 0]),
  renderItem: (p, api) => {
    let a = api.coord([api.value(0), 0]), b = api.coord([api.value(0), heatGenes.length]);
    return {type: "line", shape: {x1: a[0], y1: a[1], x2: b[0], y2: b[1]}, style: {stroke: "rgba(30,30,30,.85)", lineWidth: 1}};
  }});
// expression scale under the heatmap
let gScale = addGrid({left: 197, top: 853, width: 104.7, height: 20},
  {min: -1.44, max: 10.19, show: true, axisLine: {show: false}, splitLine: {show: false},
    axisTick: {show: true, inside: true, length: 3, lineStyle: {color: "#fff"}, customValues: heatScaleTicks},
    axisLabel: {customValues: heatScaleTicks, fontFamily: SANS, fontSize: 8.5, color: "#111", margin: 5, formatter: v => (v < 0 ? "\u2212" + (-v) : String(v))}},
  {min: 0, max: 1});
series.push({type: "custom", xAxisIndex: gScale, yAxisIndex: gScale, data: [[-1.44, 0, 10.19, 1]], encode: {x: [0, 2], y: [1, 3]},
  renderItem: (p, api) => {
    let a = api.coord([api.value(0), 1]), b = api.coord([api.value(2), 0]);
    return {type: "rect", shape: {x: a[0], y: a[1], width: b[0] - a[0], height: b[1] - a[1]}, style: {fill: {type: "linear", x: 0, y: 0, x2: 1, y2: 0, colorStops: [
      {offset: 0, color: "#4a7bb5"},{offset: .04, color: "#5f9db0"},{offset: .06, color: "#7fbf90"},{offset: .08, color: "#cfe08a"},{offset: .1, color: "#f0e48c"},{offset: .16, color: "#f0d080"},{offset: .22, color: "#e0984f"},{offset: .3, color: "#cc5f3a"},{offset: .7, color: "#c24a3c"},{offset: 1, color: "#a82a45"}]}}};
  }});

// D
let gD = addGrid({left: 398, top: 459.3, width: 294.7, height: 90.7}, {min: 0, max: 1}, {min: 0, max: 1});
function shapeSeries(shape, fill, stroke, dash, z) {
  series.push({type: "custom", xAxisIndex: gD, yAxisIndex: gD, z: z, data: shape, clip: false,
    renderItem: (p, api) => {
      if (p.dataIndex !== 0) return;
      return {type: "polygon", shape: {points: shape.map(q => api.coord(q))}, style: {fill: fill, stroke: stroke, lineWidth: .8, lineDash: dash}};
    }});
}
const hGrad = stops => ({type: "linear", x: 0, y: 0, x2: 1, y2: 0, colorStops: stops.map(s => ({offset: s[0], color: s[1]}))});
shapeSeries(dLateShape, hGrad([[0,"#faeecb"],[.31,"#f5dfa8"],[.5,"#ecbd8c"],[.647,"#df9c78"],[.84,"#d0574c"],[1,"#c9181b"]]), "#7a6a70", null, 2);
shapeSeries(dEarlyShape, hGrad([[0,"rgba(50,25,255,1)"],[.1,"rgba(70,50,255,.95)"],[.25,"rgba(120,120,250,.7)"],[.5,"rgba(185,190,245,.7)"],[.75,"rgba(195,200,225,.55)"],[1,"rgba(190,180,215,.35)"]]), "#8f8fa8", null, 3);
shapeSeries(dMidShape, hGrad([[0,"rgba(60,40,250,.5)"],[.5,"rgba(170,175,235,.25)"],[1,"rgba(190,195,225,.3)"]]), "rgba(110,110,170,.5)", [3,2], 4);
shapeSeries(dFirstShape, hGrad([[0,"rgba(60,40,250,.5)"],[1,"rgba(170,175,235,.2)"]]), "rgba(110,110,170,.5)", [3,2], 5);
[[413],[503],[599],[676]].forEach((c, i) => label(dStages[i], c[0], 450.7, plain(14.5), {align: "center"}));
label("Sox11", 411, 519, ital(11.5));
label("Hmga2", 411, 531.5, ital(11.5));
label("Etv4", 411, 543.5, ital(11.5));
label("Eno1", 494, 543, ital(11.5));
label("Ybx1", 592, 543, ital(11.5));
label("Xbp1", 658, 469, ital(11.5));
label("Spdef", 658, 483, ital(11.5));
label("Etv1", 658, 497, ital(11.5));

// violins
function violinPanel(left, top, gene, p1, p30) {
  let g = addGrid({left: left, top: top, width: 68, height: 49},
    {min: 0, max: 2.27, show: true, axisLine: {show: true, lineStyle: {color: "#222"}}, axisTick: {show: false}, axisLabel: {show: false}, splitLine: {show: false}},
    {min: 0, max: 100, show: true, axisLine: {show: true, lineStyle: {color: "#222"}}, axisTick: {show: false}, axisLabel: {show: false}, splitLine: {show: false}});
  [[.6, p1, "#9acdc6"], [1.6, p30, "#375f9e"]].forEach(v => {
    series.push({type: "custom", xAxisIndex: g, yAxisIndex: g, data: v[1], clip: false, z: 3,
      renderItem: (p, api) => {
        if (p.dataIndex !== 0) return;
        let right = v[1].map(q => api.coord([v[0] + q[1] * .5, q[0]]));
        let leftSide = v[1].map(q => api.coord([v[0] - q[1] * .5, q[0]])).reverse();
        return {type: "polygon", shape: {points: right.concat(leftSide), smooth: .2}, style: {fill: v[2], stroke: "#333", lineWidth: 1}};
      }});
  });
  label(gene, left + 3, top - 5, ital(11.5));
}
const smgcLefts = [373.3, 443.3, 513.7, 583.7, 653.7];
smgcGenes.forEach((g, i) => violinPanel(smgcLefts[i % 5], i < 5 ? 625 : 695, g, smgcP1[i], smgcP30[i]));
const seroLefts = [29.3, 99.3, 169.7, 239.7, 310];
seroGenes.forEach((g, i) => violinPanel(seroLefts[i], 941, g, seroP1[i], seroP30[i]));
label("P1 Smgc+ proacinar to P30 Smgc+", 376.7, 604, plain(13.3));
label("P1 Bpifa2+ proacinar to P30 seromucous acinar", 33, 918, plain(13.5));

// F
let gV = addGrid({left: 380.5, top: 764.5, width: 246, height: 221.4}, {min: -1.2, max: 2.8}, {min: -2.4, max: 1.2});
const vennFills = ["#dccb6c", "rgba(43,57,177,.6)", "rgba(198,108,68,.6)"];
function vennSeries(z, style) {
  series.push({type: "custom", xAxisIndex: gV, yAxisIndex: gV, z: z, data: vennX.map((x, i) => [x, vennY[i]]),
    renderItem: (p, api) => {
      let c = api.coord([api.value(0), api.value(1)]), e = api.coord([api.value(0) + 1, api.value(1)]);
      return {type: "circle", shape: {cx: c[0], cy: c[1], r: e[0] - c[0]}, z2: p.dataIndex, style: style(p.dataIndex)};
    }});
}
vennSeries(2, i => ({fill: vennFills[i]}));
vennSeries(3, i => ({fill: "none", stroke: "#111", lineWidth: 1}));
label("P1 ", 439.3, 800.7, plain(12.7), {align: "right"});
label("Smgc+", 439.3, 800.7, ital(12.7));
label("Proacinar", 450, 817, plain(12.7), {align: "center"});
label("260", 452, 842.7, "bold 13px " + SANS, {align: "center"});
label("P1 ", 535.7, 800.7, plain(12.7), {align: "right"});
label("Bpifa2+", 535.7, 800.7, ital(12.7));
label("Proacinar", 549, 817, plain(12.7), {align: "center"});
label("38", 548, 842.7, "bold 13px " + SANS, {align: "center"});
label("Aqp5", 498, 861.7, ital(12.7), {align: "center"});
label("3", 471, 884, "bold 13px " + SANS, {align: "center"});
label("19", 526, 884, "bold 13px " + SANS, {align: "center"});
label("3", 499, 912.7, "bold 13px " + SANS, {align: "center"});
label("P30 seromucous", 499, 933, ital(12.7), {align: "center"});
label("Acinar", 499, 950, plain(12.7), {align: "center"});

// panel letters
[["A",2,9],["B",368,8],["C",2,468],["D",368,443],["E",368,583],["F",368,789],["G",2,907]].forEach(l => label(l[0], l[1], l[2], 'bold 15px "Open Sans"'));

const legendBase = {orient: "vertical", icon: "circle", selectedMode: false, itemWidth: 9, itemHeight: 9};
const option = {
  animation: false,
  backgroundColor: "#fff",
  grid: grids.map(r => Object.assign({outerBoundsMode: "none"}, r)),
  xAxis: xAxes,
  yAxis: yAxes,
  visualMap: visualMaps,
  series: series,
  graphic: {elements: texts},
  legend: [
    Object.assign({}, legendBase, {data: umapNames, left: 366, top: 230, itemGap: 4, textStyle: {fontFamily: SANS, fontSize: 13, color: "#111", padding: [0,0,0,7]}}),
    Object.assign({}, legendBase, {data: ["E12","E14","E16"], left: 139.5, top: 414, itemGap: 5.5, textStyle: {fontFamily: SANS, fontSize: 12.7, color: "#111", padding: [0,0,0,8]}}),
    Object.assign({}, legendBase, {data: ["P1","P30","Adult"], left: 208.5, top: 413, itemGap: 5.5, textStyle: {fontFamily: SANS, fontSize: 12.7, color: "#111", padding: [0,0,0,8]}})
  ]
};
const chart = echarts.init(document.getElementById("main"), null, {width: 736, height: 994});
chart.setOption(option);
</script>
</body>
</html>
